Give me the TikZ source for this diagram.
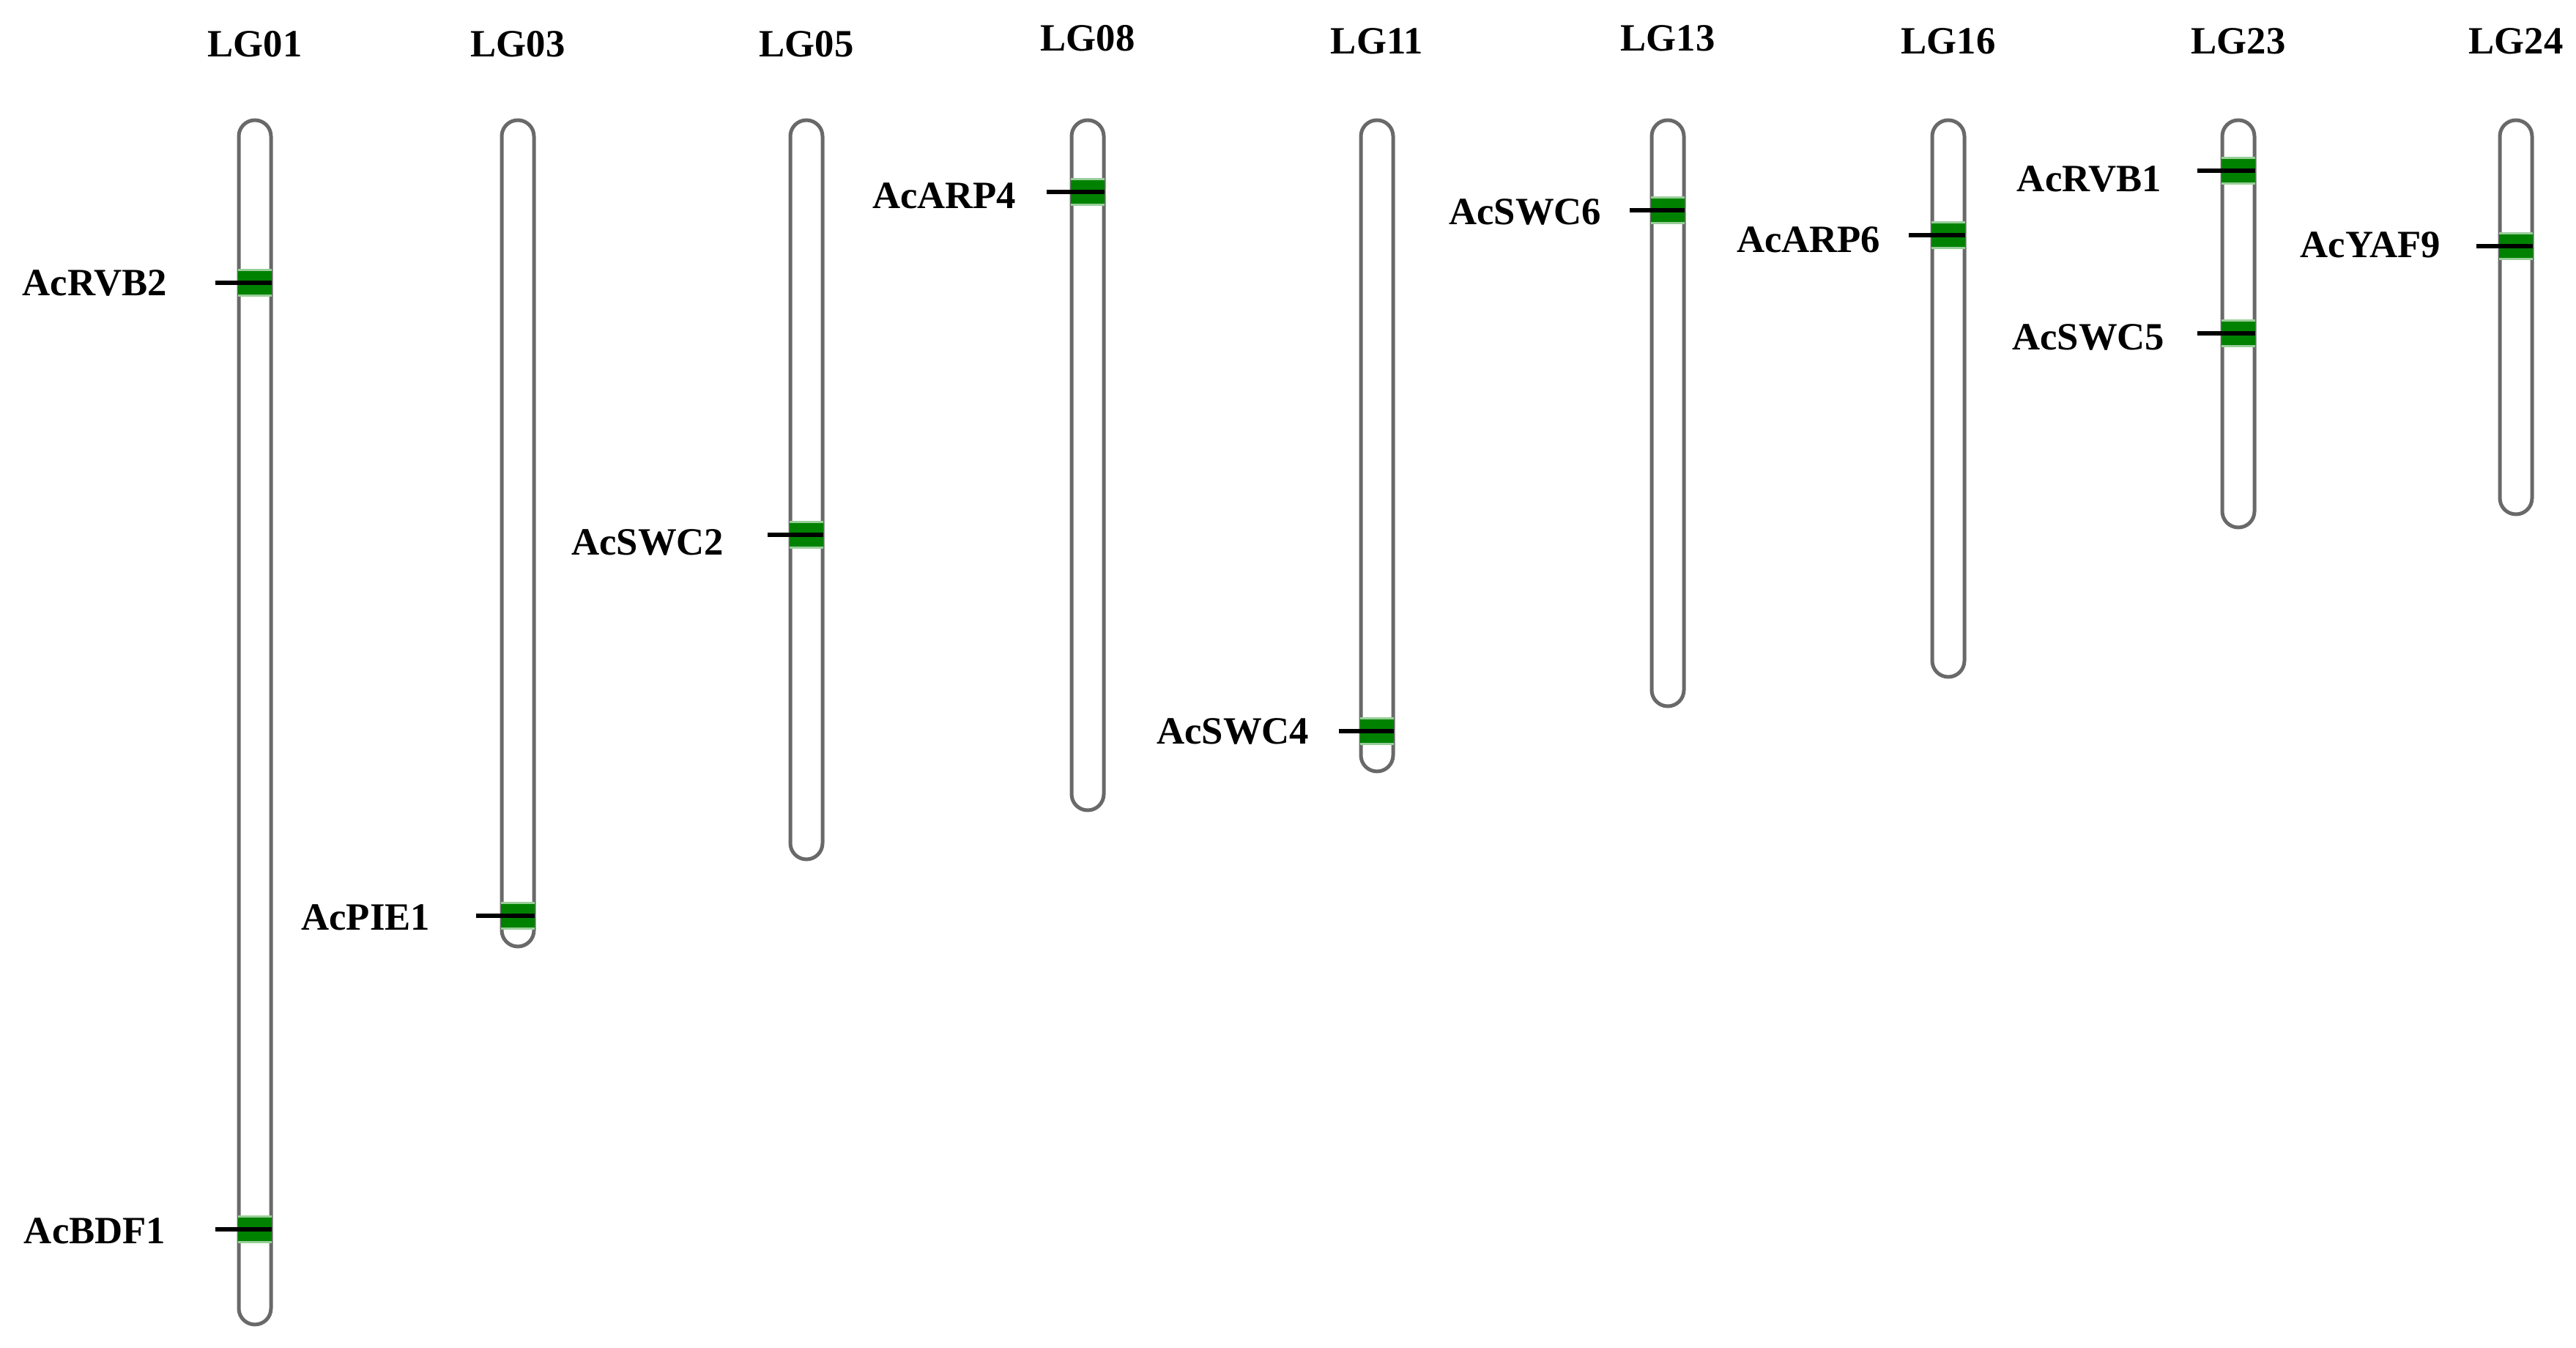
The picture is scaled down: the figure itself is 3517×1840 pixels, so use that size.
\documentclass[tikz,border=0pt]{standalone}
\usepackage{fontspec}
\setmainfont{Liberation Serif}
\definecolor{chromline}{RGB}{105,105,105}
\definecolor{markgreen}{RGB}{0,130,0}
\tikzset{
  chromo/.style={draw=chromline, line width=0.05cm, fill=white, rounded corners=0.22cm},
  genemark/.style={fill=markgreen},
  genefringe/.style={fill=markgreen!40!white},
  tick/.style={draw=black, line width=0.065cm},
  title/.style={font=\fontsize{15}{18}\selectfont\bfseries, inner sep=0pt, anchor=center},
  glabel/.style={font=\fontsize{15}{18}\selectfont\bfseries, inner sep=0pt, anchor=east},
}
\newcommand{\chrom}[4]{% name, x, bottom, title y
  \draw[chromo] (#2-22,164) rectangle (#2+22,#3);
  \node[title] (t#1) at (#2,#4) {#1};
}
\newcommand{\gmark}[6]{% name, chrom x, y, label right x, label y, tick offset
  \fill[genefringe] (#2-23,#3-19) rectangle (#2+23,#3+19);
  \fill[genemark] (#2-23,#3-16) rectangle (#2+23,#3+16);
  \coordinate (s#1) at (#2-#6,#3);
  \coordinate (e#1) at (#2+23,#3);
  \draw[tick] (s#1) -- (e#1);
  \node[glabel] (#1) at (#4,#5) {#1};
}
\begin{document}
\begin{tikzpicture}[x=0.01cm,y=-0.01cm]
\useasboundingbox (0,0) rectangle (3517,1840);
\chrom{LG01}{348}{1808}{60}
\chrom{LG03}{707}{1292}{60}
\chrom{LG05}{1101}{1173}{60}
\chrom{LG08}{1485}{1106}{52}
\chrom{LG11}{1880}{1053}{56}
\chrom{LG13}{2277}{964}{52}
\chrom{LG16}{2660}{924}{56}
\chrom{LG23}{3056}{720}{56}
\chrom{LG24}{3435}{702}{56}
\gmark{AcRVB2}{348}{386}{229}{386}{54}
\gmark{AcBDF1}{348}{1678}{227}{1680}{54}
\gmark{AcPIE1}{707}{1250}{588}{1252}{57}
\gmark{AcSWC2}{1101}{730}{989}{740}{53}
\gmark{AcARP4}{1485}{262}{1388}{267}{56}
\gmark{AcSWC4}{1880}{998}{1788}{998}{52}
\gmark{AcSWC6}{2277}{287}{2187}{289}{52}
\gmark{AcARP6}{2660}{321}{2568}{327}{54}
\gmark{AcRVB1}{3056}{233}{2952}{244}{56}
\gmark{AcSWC5}{3056}{455}{2956}{460}{56}
\gmark{AcYAF9}{3435}{336}{3333}{334}{54}
\end{tikzpicture}
\end{document}
